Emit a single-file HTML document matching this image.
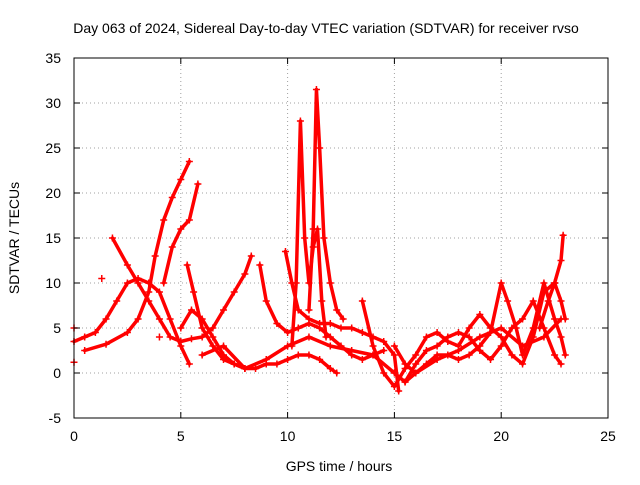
<!DOCTYPE html>
<html><head><meta charset="utf-8"><style>
body{margin:0;background:#fff}
svg{font-family:"Liberation Sans",sans-serif}
</style></head><body>
<svg id="chart" width="640" height="480" xmlns="http://www.w3.org/2000/svg">
<rect width="640" height="480" fill="#fff"/>
<text x="326" y="33" font-size="14" text-anchor="middle">Day 063 of 2024, Sidereal Day-to-day VTEC variation (SDTVAR) for receiver rvso</text>
<text x="339" y="471" font-size="14" text-anchor="middle">GPS time / hours</text>
<text transform="translate(19,238) rotate(-90)" font-size="14" text-anchor="middle">SDTVAR / TECUs</text>
<g id="grid"></g><g id="marks"></g><g id="axes"></g>
</svg>
<script>
const xTicks=[0,5,10,15,20,25];
const yTicks=[-5,0,5,10,15,20,25,30,35];
const trackA=[[0.5,2.5],[1.5,3.2],[2.5,4.5],[3,6],[3.5,9],[3.8,13],[4.2,17],[4.6,19.5],[5,21.5],[5.4,23.5]];
const trackB=[[4.2,10],[4.6,14],[5,16],[5.4,17],[5.8,21]];
const trackC=[[0,3.5],[0.5,4],[1,4.5],[1.5,6],[2,8],[2.5,10],[3,10.5],[3.5,10],[4,9],[4.5,6],[5,3],[5.4,1]];
const trackD=[[1.8,15],[2.5,12],[3,10],[3.5,8],[4,6],[4.5,4],[5,3.5],[5.5,3.8],[6,4],[6.5,5],[7,7],[7.5,9],[8,11],[8.3,13]];
const trackE=[[5,5],[5.5,7],[6,6],[6.5,4],[7,2],[7.5,1],[8,0.5],[8.5,0.5],[9,1],[9.5,1],[10,1.5],[10.5,2],[11,2],[11.5,1.5],[12,0.5],[12.3,0]];
const trackF=[[5.3,12],[5.6,9],[6,5],[6.5,3],[7,1.5],[7.5,1],[8,0.5]];
const trackG=[[8.7,12],[9,8],[9.5,5.5],[10,4.5],[10.5,5],[11,5.5],[11.5,5],[12,4],[12.5,3],[13,2],[13.5,1.5],[14,2],[14.5,2.5]];
const trackH=[[9.9,13.5],[10.2,10],[10.5,7],[11,6],[11.5,5.5],[12,5.5],[12.5,5],[13,5],[13.5,4.5],[14,4],[14.5,3.5],[15,2],[15.2,-2]];
const spike1=[[10.2,3],[10.4,10],[10.6,28],[10.8,15],[11,10],[11.2,14],[11.4,16],[11.6,8],[11.8,4]];
const spike2=[[11,7],[11.2,16],[11.35,31.5],[11.5,25],[11.7,15],[12,10],[12.3,7],[12.6,6]];
const trackI=[[6,2],[7,3],[8,0.5],[9,1.5],[10,3],[11,4],[12,3],[13,2.5],[14,2],[15,0],[15.5,-1],[16,0],[17,1.5],[18,2.5],[19,4],[20,5],[21,3],[22,4],[22.8,6]];
const trackJ=[[13.5,8],[14,3],[14.5,0],[15,-1.5],[15.5,0.5],[16,2],[16.5,4],[17,4.5],[17.5,3.5],[18,3],[18.5,5],[19,6.5],[19.5,5],[20,4],[20.5,2],[21,1],[21.5,4],[22,9],[22.5,10],[22.8,8],[23,6]];
const trackK=[[15,3],[15.5,1],[16,0],[16.5,1],[17,2],[17.5,2],[18,1.5],[18.5,2],[19,3],[19.5,4.5],[20,10],[20.3,8],[20.7,5],[21,2],[21.5,5],[22,10],[22.5,6],[22.8,4],[23,2]];
const trackL=[[15.5,-1],[16,1],[16.5,2.5],[17,3],[17.5,4],[18,4.5],[18.5,4],[19,2.5],[19.5,1.5],[20,3],[20.5,5],[21,6],[21.5,8],[22,5],[22.5,2],[22.8,1]];
const trackM=[[21.8,5],[22.2,8],[22.5,10],[22.8,12.5],[22.9,15.3]];
const isolated=[[1.3,10.5],[4,4],[0,5],[0,1.2]];
const tracks=[trackA,trackB,trackC,trackD,trackE,trackF,trackG,trackH,spike1,spike2,trackI,trackJ,trackK,trackL,trackM];
const X0=74,X1=608,Y0=418,Y1=58;
const xs=v=>X0+(v-0)/25*(X1-X0);
const ys=v=>Y0-(v+5)/40*(Y0-Y1);
const NS="http://www.w3.org/2000/svg";
function mk(t,a,p){const e=document.createElementNS(NS,t);for(const k in a)e.setAttribute(k,a[k]);p.appendChild(e);return e;}
const grid=document.getElementById('grid'),axes=document.getElementById('axes'),marks=document.getElementById('marks');
xTicks.forEach(t=>{
 if(t>0&&t<25){const g=mk('line',{x1:xs(t),x2:xs(t),y1:Y0,y2:Y1,stroke:'#a0a0a0','stroke-dasharray':'1,3'},grid);
 }
 const l=mk('text',{x:xs(t),y:Y0+23,'font-size':14,'text-anchor':'middle'},axes);l.textContent=t;
 
 mk('line',{x1:xs(t),x2:xs(t),y1:Y0,y2:Y0-6,stroke:'#000'},axes);
 mk('line',{x1:xs(t),x2:xs(t),y1:Y1,y2:Y1+6,stroke:'#000'},axes);
});
yTicks.forEach(t=>{
 if(t>-5&&t<35){const g=mk('line',{x1:X0,x2:X1,y1:ys(t),y2:ys(t),stroke:'#a0a0a0','stroke-dasharray':'1,3'},grid);
 }
 const l=mk('text',{x:X0-13,y:ys(t)+5,'font-size':14,'text-anchor':'end'},axes);l.textContent=t;
 
 mk('line',{x1:X0,x2:X0+6,y1:ys(t),y2:ys(t),stroke:'#000'},axes);
 mk('line',{x1:X1,x2:X1-6,y1:ys(t),y2:ys(t),stroke:'#000'},axes);
});
const frame=mk('rect',{x:X0,y:Y1,width:X1-X0,height:Y0-Y1,fill:'none',stroke:'#000'},axes);

function plus(p){const x=xs(p[0]),y=ys(p[1]);
 const m=mk('path',{d:`M${x-3.5},${y}h7M${x},${y-3.5}v7`,stroke:'#f00','stroke-width':1.5},marks);
 }
tracks.forEach(tr=>{
 const pl=mk('polyline',{points:tr.map(p=>xs(p[0])+','+ys(p[1])).join(' '),fill:'none',stroke:'#f00','stroke-width':3.5,'stroke-linejoin':'round','stroke-linecap':'round'},marks);
 
 tr.forEach(plus);
});
isolated.forEach(plus);
</script>
</body></html>
